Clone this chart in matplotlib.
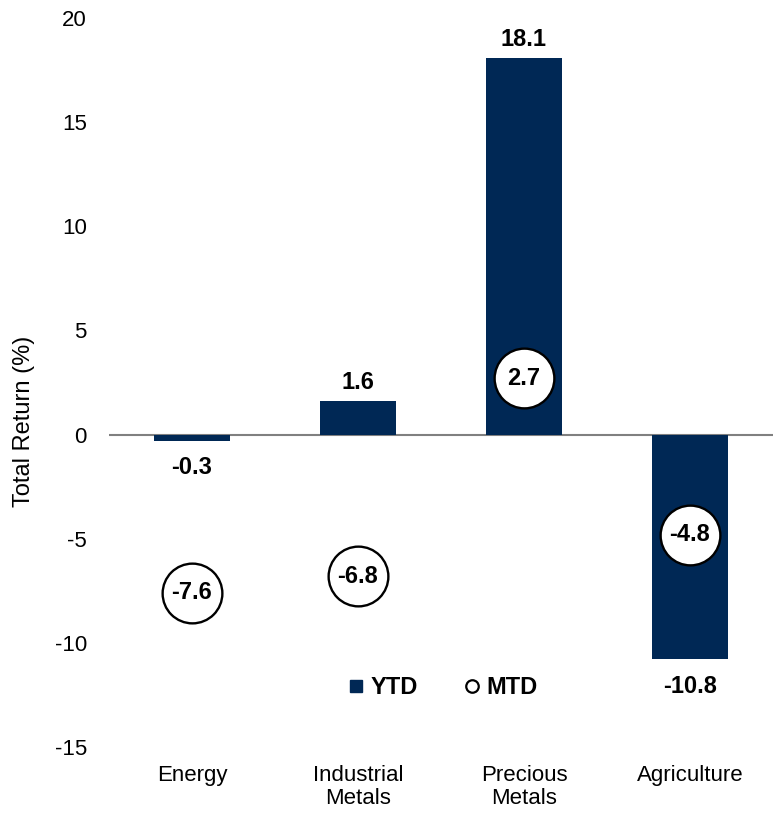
import numpy as np
import matplotlib.pyplot as plt
from matplotlib.lines import Line2D

DPI = 100
FIGSIZE = (7.73, 8.16)
FONT = "Liberation Sans"
FONTSIZE_TICKS = 16
FONTSIZE_LABELS = 17
BAR_COLOR = "#002855"

categories = ["Energy", "Industrial\nMetals", "Precious\nMetals", "Agriculture"]
ytd = [-0.3, 1.6, 18.1, -10.8]
mtd = [-7.6, -6.8, 2.7, -4.8]
yticks = [-15, -10, -5, 0, 5, 10, 15, 20]

plt.rcParams["font.family"] = [FONT, "DejaVu Sans"]

fig = plt.figure(figsize=FIGSIZE, dpi=DPI)
ax = fig.add_axes([0.141, 0.0846, 0.859, 0.8934])
x = np.arange(len(categories))

ax.bar(x, ytd, width=0.46, color=BAR_COLOR, zorder=2)
ax.axhline(0, color="#808080", lw=1.5, zorder=1)
ax.scatter(x, mtd, s=1850, facecolors="white", edgecolors="black",
           linewidths=1.7, zorder=3)

for xi, v in zip(x, ytd):
    if v >= 0:
        ax.annotate(f"{v:.1f}", (xi, v), xytext=(0, 5), textcoords="offset points",
                    ha="center", va="bottom", fontsize=FONTSIZE_LABELS,
                    fontweight="bold")
    else:
        ax.annotate(f"{v:.1f}", (xi, v), xytext=(0, -11), textcoords="offset points",
                    ha="center", va="top", fontsize=FONTSIZE_LABELS,
                    fontweight="bold")
for xi, v in zip(x, mtd):
    ax.text(xi, v, f"{v:.1f}", ha="center", va="center",
            fontsize=FONTSIZE_LABELS, fontweight="bold", zorder=4)

ax.set_xlim(-0.5, 3.5)
ax.set_ylim(-15, 20)
ax.set_yticks(yticks)
ax.set_yticklabels([str(t) for t in yticks], fontsize=FONTSIZE_TICKS)
ax.set_xticks(x)
ax.set_xticklabels(categories, fontsize=FONTSIZE_TICKS, linespacing=1.15)
ax.tick_params(axis="x", length=0, pad=13)
ax.tick_params(axis="y", length=0, pad=16)
for s in ax.spines.values():
    s.set_visible(False)
ax.set_ylabel("Total Return (%)", fontsize=17)
ax.yaxis.set_label_coords(-0.112, 0.447)

handles = [
    Line2D([], [], marker="s", ls="none", color=BAR_COLOR, markersize=9),
    Line2D([], [], marker="o", ls="none", markerfacecolor="white",
           markeredgecolor="black", markeredgewidth=1.6, markersize=9),
]
ax.legend(handles, ["YTD", "MTD"], ncol=2, frameon=False,
          prop={"size": FONTSIZE_LABELS, "weight": "bold"},
          loc="center", bbox_to_anchor=(0.5, 0.081),
          handletextpad=0.1, columnspacing=1.8, handlelength=1.0)

fig.savefig("out.png", dpi=DPI)
